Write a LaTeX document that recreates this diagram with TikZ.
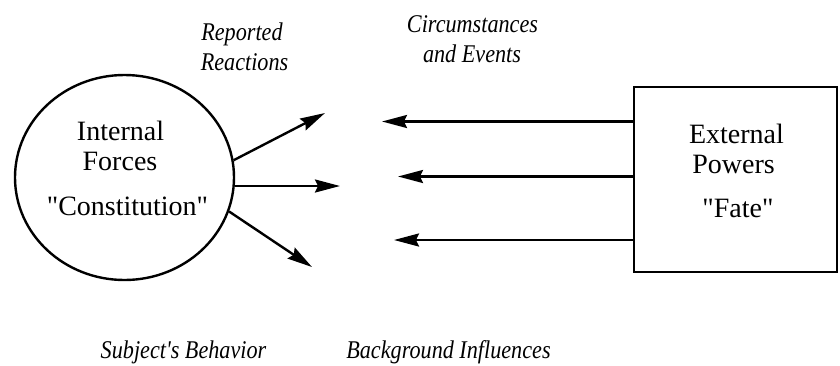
\documentclass[tikz,border=0pt]{standalone}
\usepackage{fontspec}
\setmainfont{Liberation Serif}[Ligatures=TeXOff]
\usetikzlibrary{shapes.geometric,arrows.meta}
\begin{document}
\begin{tikzpicture}[x=1pt,y=-1pt,line width=2.4pt,
  body/.style={font=\fontsize{28}{30}\selectfont,inner sep=0pt,anchor=base},
  tag/.style={font=\fontsize{25.5}{28}\selectfont\itshape,inner sep=0pt,anchor=base,xscale=0.87,transform shape},
  arr/.style={-{Stealth[length=25pt,width=13pt,inset=3pt]}}]
\useasboundingbox (0,0) rectangle (840,365);

% inner circle and outer box
\node[ellipse,draw,minimum width=219pt,minimum height=205pt,inner sep=0pt] (inner) at (124.5,177.5) {};
\node[rectangle,draw,minimum width=203pt,minimum height=185pt,inner sep=0pt] (outer) at (735.5,179.5) {};

% texts inside
\node[body] (t1) at (120.5,140) {Internal};
\node[body] (t2) at (120,170) {Forces};
\node[body] (t3) at (127.5,215) {"Constitution"};
\node[body] (t4) at (736.5,143) {External};
\node[body] (t5) at (733.5,173) {Powers};
\node[body] (t6) at (738,217) {"Fate"};

% italic captions
\node[tag] (c1) at (242,40) {Reported};
\node[tag] (c2) at (244.5,70) {Reactions};
\node[tag] (c3) at (472.5,32) {Circumstances};
\node[tag] (c4) at (472,62) {and Events};
\node[tag] (c5) at (183.5,358) {Subject's Behavior};
\node[tag] (c6) at (448.5,358) {Background Influences};

% reactions going out of the circle
\coordinate (r1) at (325,113);
\coordinate (r2) at (340,186);
\coordinate (r3) at (312,267);
\draw[arr] (inner.9.5) -- (r1);
\draw[arr] (r2 -| inner.east) -- (r2);
\draw[arr] (inner.-18.6) -- (r3);

% influences coming from the box
\coordinate (e1) at (382,121.5);
\coordinate (e2) at (398,176.5);
\coordinate (e3) at (394,240);
\draw[arr] (outer.west |- e1) -- (e1);
\draw[arr] (outer.west |- e2) -- (e2);
\draw[arr] (outer.west |- e3) -- (e3);
\end{tikzpicture}
\end{document}
